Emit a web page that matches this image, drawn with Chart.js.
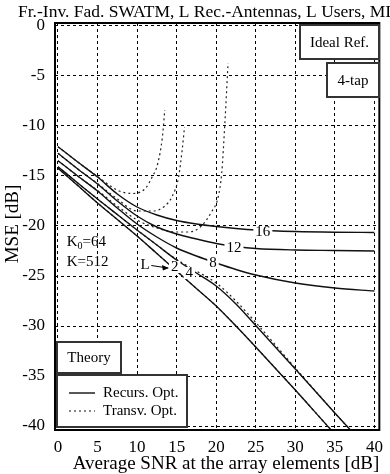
<!DOCTYPE html>
<html>
<head>
<meta charset="utf-8">
<script src="https://cdn.jsdelivr.net/npm/chart.js@4"></script>
<style>
  html, body { margin: 0; padding: 0; background: #fff; }
  #wrap { width: 390px; height: 474px; position: relative; }
</style>
</head>
<body>
<div id="wrap"><canvas id="mseChart" width="390" height="474"></canvas></div>
<script>
// 축 눈금
const xTicks = [0, 5, 10, 15, 20, 25, 30, 35, 40];
const yTicks = [0, -5, -10, -15, -20, -25, -30, -35, -40];

// Recurs. Opt. (실선) - 공통 SNR 축
const snrGrid = [0, 2.5, 5, 7.5, 10, 12.5, 15, 17.5, 20, 22.5, 25, 30, 35, 40];
const recurs16 = [-12.07, -13.6, -15.1, -16.8, -18.1, -18.9, -19.45, -19.8, -20.05, -20.25, -20.4, -20.55, -20.62, -20.65];
const recurs12 = [-12.73, -14.3, -15.8, -17.5, -19.0, -20.1, -20.8, -21.3, -21.75, -22.05, -22.25, -22.4, -22.45, -22.5];
const recurs8 = [-13.47, -15.0, -16.5, -18.2, -19.8, -21.1, -22.2, -23.0, -23.7, -24.35, -24.9, -25.7, -26.2, -26.5];
const recurs4 = [-14.07, -15.7, -17.3, -18.85, -20.4, -21.9, -23.4, -24.7, -26.0, -27.8, -29.95, -34.3, -38.7, -43.0];
const recurs2 = [-14.23, -15.95, -17.7, -19.35, -21.0, -22.75, -24.5, -26.25, -28.0, -30.0, -32.1, -36.4, -40.8, -45.0];

// Transv. Opt. (점선) - 곡선마다 SNR 값이 다름
const transv16X = [0, 2.5, 5, 6.1, 7.75, 9.4, 11.1, 11.9, 12.6, 13.2, 13.5];
const transv16Y = [-12.07, -13.6, -15.05, -15.7, -16.5, -16.75, -16.2, -15.1, -13.8, -11.1, -8.4];
const transv12X = [0, 2.5, 5, 7.5, 10, 12, 13.5, 14.4, 15.25, 15.7, 16.0];
const transv12Y = [-12.73, -14.3, -15.75, -17.3, -18.5, -18.5, -18.0, -17.1, -15.1, -12.4, -10.1];
const transv8X = [0, 2.5, 5, 7.5, 10, 12.5, 15, 16.5, 18, 19.4, 20.25, 20.7, 21.1, 21.5];
const transv8Y = [-13.47, -15.0, -16.45, -18.0, -19.4, -20.2, -20.6, -20.6, -20.1, -18.6, -17.1, -14.7, -9.7, -3.7];
const transv4Y = [-14.07, -15.7, -17.3, -18.85, -20.4, -21.9, -23.35, -24.5, -25.7, -27.5, -29.65, -34.2, -38.7, -43.0];
const transv2Y = recurs2;

// 곡선 라벨 (데이터 좌표)
const curveLabels = [
    { text: '16', x: 25.9, y: -20.6 },
    { text: '12', x: 22.25, y: -22.2 },
    { text: '8', x: 19.6, y: -23.7 },
    { text: '2', x: 14.75, y: -24.1 },
    { text: '4', x: 16.6, y: -24.7 }
];

const serif = '"Liberation Serif", "DejaVu Serif", serif';

function pts(xs, ys) {
    return xs.map((x, i) => ({ x: x, y: ys[i] }));
}

function solid(data) {
    return {
        data: data, borderColor: '#111', borderWidth: 1.4,
        pointRadius: 0, fill: false, cubicInterpolationMode: 'monotone'
    };
}

function dotted(data) {
    return {
        data: data, borderColor: '#222', borderWidth: 1.2, borderDash: [2, 3],
        pointRadius: 0, fill: false, cubicInterpolationMode: 'monotone'
    };
}

function box(ctx, x1, y1, x2, y2) {
    ctx.fillStyle = '#fff';
    ctx.fillRect(x1, y1, x2 - x1, y2 - y1);
    ctx.strokeStyle = '#333';
    ctx.lineWidth = 2;
    ctx.setLineDash([]);
    ctx.strokeRect(x1, y1, x2 - x1, y2 - y1);
}

// 라벨, 박스, 프레임 그리기
const decorPlugin = {
    id: 'decor',
    afterDatasetsDraw(chart) {
        const ctx = chart.ctx;
        const xs = chart.scales.x, ys = chart.scales.y;
        ctx.save();
        ctx.font = '15px ' + serif;
        ctx.textAlign = 'center';
        ctx.textBaseline = 'middle';
        curveLabels.forEach(l => {
            const px = xs.getPixelForValue(l.x), py = ys.getPixelForValue(l.y);
            const w = ctx.measureText(l.text).width;
            ctx.fillStyle = '#fff';
            ctx.fillRect(px - w / 2 - 2, py - 6, w + 4, 12);
            ctx.fillStyle = '#000';
            ctx.fillText(l.text, px, py);
        });
        // L 화살표
        const lx = xs.getPixelForValue(11.0), ly = ys.getPixelForValue(-23.9);
        ctx.fillText('L', lx, ly);
        const ax1 = xs.getPixelForValue(11.8), ay1 = ys.getPixelForValue(-23.95);
        const ax2 = xs.getPixelForValue(13.9), ay2 = ys.getPixelForValue(-24.2);
        ctx.strokeStyle = '#000';
        ctx.lineWidth = 1;
        ctx.beginPath();
        ctx.moveTo(ax1, ay1);
        ctx.lineTo(ax2, ay2);
        ctx.stroke();
        ctx.beginPath();
        ctx.moveTo(ax2 + 1, ay2);
        ctx.lineTo(ax2 - 6, ay2 - 3);
        ctx.lineTo(ax2 - 5, ay2 + 2.5);
        ctx.closePath();
        ctx.fillStyle = '#000';
        ctx.fill();

        // K 파라미터
        ctx.textAlign = 'left';
        ctx.font = '15px ' + serif;
        const kx = xs.getPixelForValue(1.1);
        ctx.fillText('K', kx, ys.getPixelForValue(-21.6));
        let w = ctx.measureText('K').width;
        ctx.font = '10px ' + serif;
        ctx.fillText('0', kx + w, ys.getPixelForValue(-21.6) + 4);
        let w2 = ctx.measureText('0').width;
        ctx.font = '15px ' + serif;
        ctx.fillText('=64', kx + w + w2, ys.getPixelForValue(-21.6));
        ctx.fillText('K=512', kx, ys.getPixelForValue(-23.6));
        ctx.restore();
    },
    afterDraw(chart) {
        const ctx = chart.ctx;
        const a = chart.chartArea;
        ctx.save();
        // 플롯 테두리
        ctx.strokeStyle = '#000';
        ctx.lineWidth = 2;
        ctx.setLineDash([]);
        ctx.strokeRect(a.left, a.top, a.right - a.left, a.bottom - a.top);

        ctx.font = '15px ' + serif;
        ctx.textBaseline = 'middle';
        ctx.textAlign = 'center';
        box(ctx, 300, 25, 379, 59);
        ctx.fillStyle = '#000';
        ctx.fillText('Ideal Ref.', 339.5, 43);
        box(ctx, 327, 63, 379, 97);
        ctx.fillStyle = '#000';
        ctx.fillText('4-tap', 353, 81);
        box(ctx, 57, 342, 121, 373);
        ctx.fillStyle = '#000';
        ctx.fillText('Theory', 89, 358);

        // 범례
        box(ctx, 57, 375, 187, 427);
        ctx.strokeStyle = '#111';
        ctx.lineWidth = 1.4;
        ctx.beginPath();
        ctx.moveTo(69, 393);
        ctx.lineTo(95, 393);
        ctx.stroke();
        ctx.setLineDash([2, 3]);
        ctx.lineWidth = 1.2;
        ctx.beginPath();
        ctx.moveTo(69, 411);
        ctx.lineTo(95, 411);
        ctx.stroke();
        ctx.setLineDash([]);
        ctx.textAlign = 'left';
        ctx.fillStyle = '#000';
        ctx.fillText('Recurs. Opt.', 103, 393);
        ctx.fillText('Transv. Opt.', 103, 411);

        // 제목, 축 제목
        ctx.font = '17.5px ' + serif;
        ctx.textBaseline = 'alphabetic';
        ctx.fillText('Fr.-Inv. Fad. SWATM, L Rec.-Antennas, L Users, MIMO', 18, 17);
        ctx.font = '19px ' + serif;
        ctx.textAlign = 'center';
        ctx.fillText('Average SNR at the array elements [dB]', 226, 469);
        ctx.translate(18, 224);
        ctx.rotate(-Math.PI / 2);
        ctx.fillText('MSE [dB]', 0, 0);
        ctx.restore();
    }
};

const chartEl = document.getElementById('mseChart').getContext('2d');
new Chart(chartEl, {
    type: 'line',
    data: {
        datasets: [
            solid(pts(snrGrid, recurs16)),
            solid(pts(snrGrid, recurs12)),
            solid(pts(snrGrid, recurs8)),
            solid(pts(snrGrid, recurs4)),
            solid(pts(snrGrid, recurs2)),
            dotted(pts(transv16X, transv16Y)),
            dotted(pts(transv12X, transv12Y)),
            dotted(pts(transv8X, transv8Y)),
            dotted(pts(snrGrid, transv4Y)),
            dotted(pts(snrGrid, transv2Y))
        ]
    },
    options: {
        responsive: false,
        animation: false,
        devicePixelRatio: 1,
        layout: { padding: { top: 23, right: 7, left: 0, bottom: 0 } },
        plugins: {
            legend: { display: false },
            title: { display: false },
            tooltip: { enabled: false }
        },
        scales: {
            x: {
                type: 'linear',
                min: -0.375,
                max: 40.625,
                afterBuildTicks: s => { s.ticks = xTicks.map(v => ({ value: v })); },
                afterFit: s => { s.height = 44; },
                ticks: { color: '#000', font: { family: serif, size: 17 }, padding: 7, maxRotation: 0 },
                grid: { color: '#000', lineWidth: 1, drawTicks: false },
                border: { display: false, dash: [3, 3] }
            },
            y: {
                type: 'linear',
                min: -40.4,
                max: 0.3,
                afterBuildTicks: s => { s.ticks = yTicks.map(v => ({ value: v })); },
                afterFit: s => { s.width = 55; },
                ticks: { color: '#000', font: { family: serif, size: 17 }, padding: 10 },
                grid: { color: '#000', lineWidth: 1, drawTicks: false },
                border: { display: false, dash: [3, 3] }
            }
        }
    },
    plugins: [decorPlugin]
});
</script>
</body>
</html>
